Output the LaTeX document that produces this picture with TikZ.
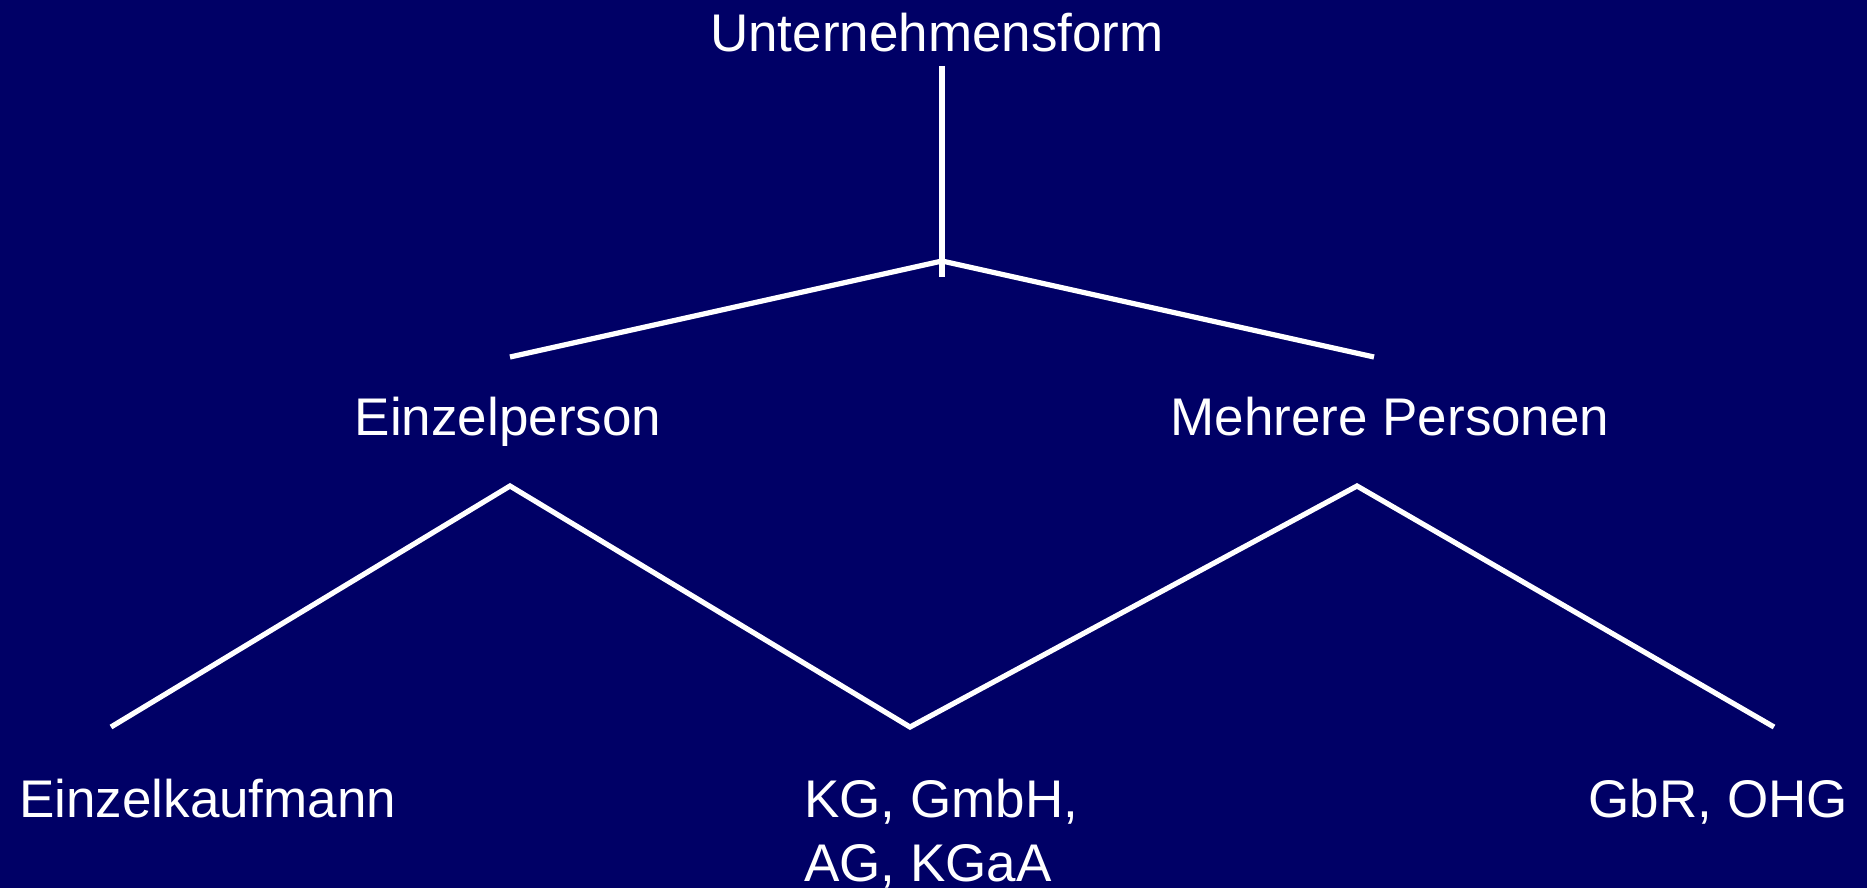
\documentclass[tikz,border=0pt]{standalone}
\usepackage{fontspec}
\setmainfont{Liberation Sans}
\definecolor{bg}{RGB}{0,0,102}
\begin{document}
\begin{tikzpicture}[x=1pt,y=-1pt,
  lbl/.style={text=white, font=\fontsize{53}{64}\selectfont, inner sep=0pt},
  conn/.style={white, line width=5.2pt}]
\fill[bg] (0,0) rectangle (1867,888);
\useasboundingbox (0,0) rectangle (1867,888);
% labels
\node[lbl, anchor=base] (root) at (937,52) {Unternehmensform};
\node[lbl, anchor=base] (einzel) at (508,435) {Einzelperson};
\node[lbl, anchor=base] (mehrere) at (1390,435) {Mehrere Personen};
\node[lbl, anchor=base west] (ekfm) at (19,817) {Einzelkaufmann};
\node[lbl, anchor=base west, align=left] (kg) at (804,881) {KG, GmbH,\\AG, KGaA};
\node[lbl, anchor=base east] (gbr) at (1848,817) {GbR, OHG};
% connector points
\coordinate (rtop) at (942,66);
\coordinate (rj) at (942,261);
\coordinate (rbot) at (942,277);
\coordinate (eTop) at (510,357);
\coordinate (mTop) at (1374,357);
\coordinate (ePeak) at (510,486);
\coordinate (mPeak) at (1357,486);
\coordinate (ekEnd) at (111,727);
\coordinate (kgEnd) at (910,727);
\coordinate (gbEnd) at (1774,727);
% connectors
\draw[conn] (rtop) -- (rbot);
\draw[conn] (eTop) -- (rj) -- (mTop);
\draw[conn] (ekEnd) -- (ePeak) -- (kgEnd) -- (mPeak) -- (gbEnd);
\end{tikzpicture}
\end{document}
